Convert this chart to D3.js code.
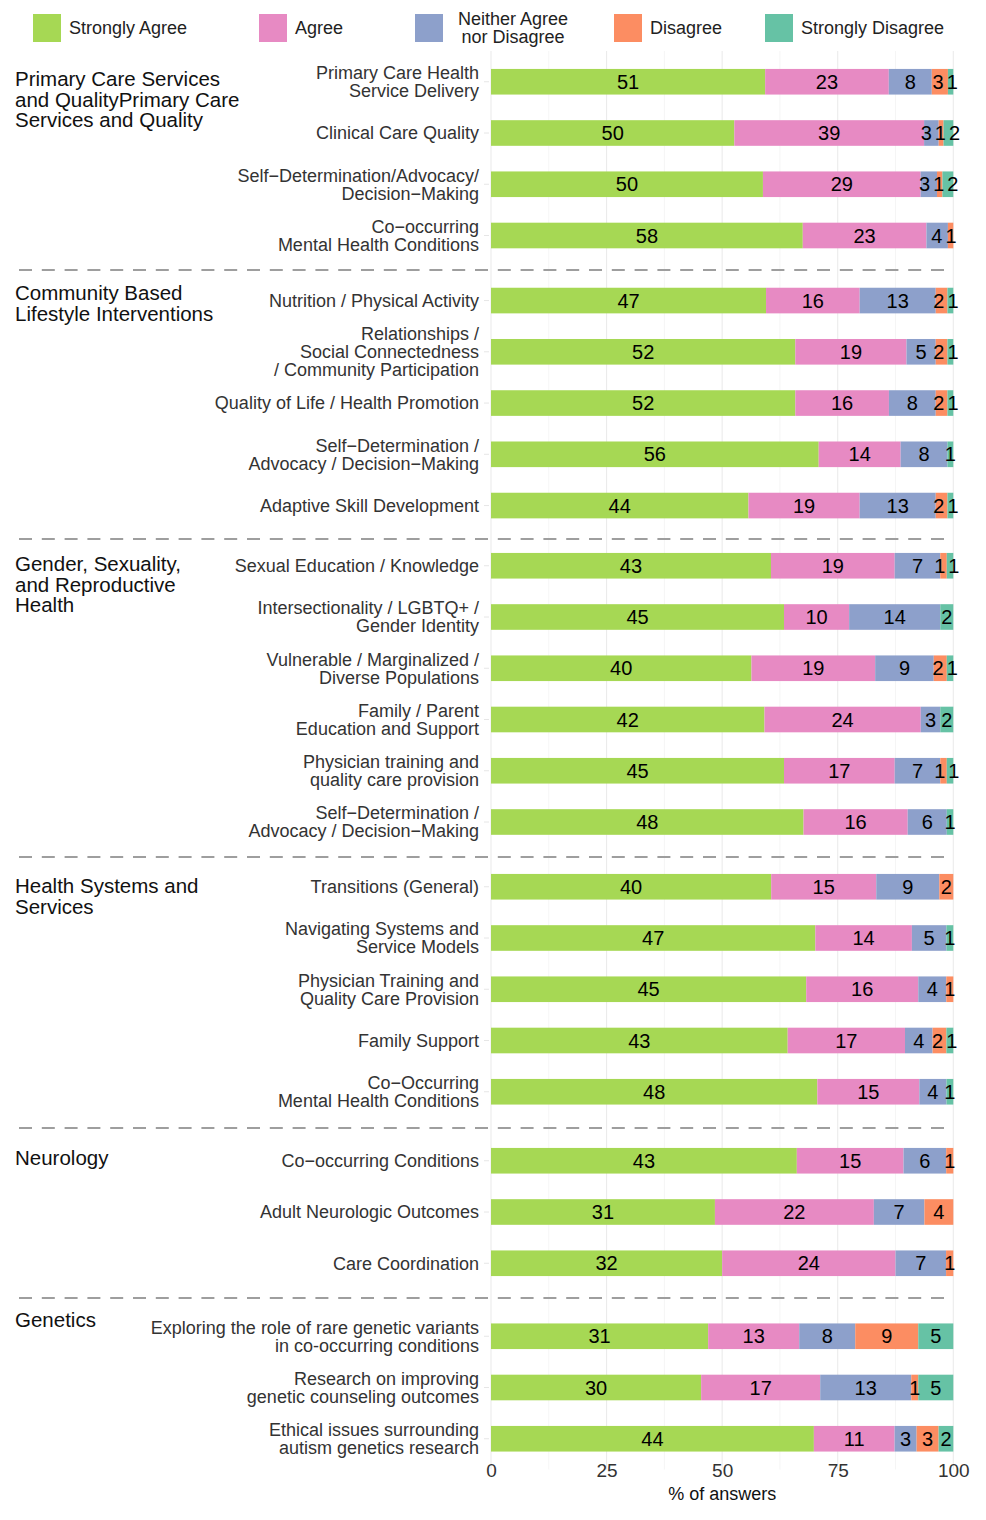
<!DOCTYPE html>
<html>
<head>
<meta charset="utf-8">
<script src="https://cdn.jsdelivr.net/npm/d3@7"></script>
<style>
  body { margin: 0; background: #fff; }
  text { font-family: "Liberation Sans", Arial, Helvetica, sans-serif; }
</style>
</head>
<body>
<svg id="chart" width="986" height="1520"></svg>
<script>
// answer levels (legend order = stacking order)
const levels = ["Strongly Agree", "Agree", "Neither Agree\nnor Disagree", "Disagree", "Strongly Disagree"];
const colors = ["#a6d854", "#e78ac3", "#8da0cb", "#fc8d62", "#66c2a5"];

const groupNames = [
  "Primary Care Services\nand QualityPrimary Care\nServices and Quality",
  "Community Based\nLifestyle Interventions",
  "Gender, Sexuality,\nand Reproductive\nHealth",
  "Health Systems and\nServices",
  "Neurology",
  "Genetics"
];

const itemLabels = [
  ["Primary Care Health\nService Delivery", "Clinical Care Quality",
   "Self\u2212Determination/Advocacy/\nDecision\u2212Making", "Co\u2212occurring\nMental Health Conditions"],
  ["Nutrition / Physical Activity", "Relationships /\nSocial Connectedness\n/ Community Participation",
   "Quality of Life / Health Promotion", "Self\u2212Determination /\nAdvocacy / Decision\u2212Making",
   "Adaptive Skill Development"],
  ["Sexual Education / Knowledge", "Intersectionality / LGBTQ+ /\nGender Identity",
   "Vulnerable / Marginalized /\nDiverse Populations", "Family / Parent\nEducation and Support",
   "Physician training and\nquality care provision", "Self\u2212Determination /\nAdvocacy / Decision\u2212Making"],
  ["Transitions (General)", "Navigating Systems and\nService Models",
   "Physician Training and\nQuality Care Provision", "Family Support",
   "Co\u2212Occurring\nMental Health Conditions"],
  ["Co\u2212occurring Conditions", "Adult Neurologic Outcomes", "Care Coordination"],
  ["Exploring the role of rare genetic variants\nin co-occurring conditions",
   "Research on improving\ngenetic counseling outcomes",
   "Ethical issues surrounding\nautism genetics research"]
];

// counts per item, in the same order as itemLabels flattened
const stronglyAgree    = [51, 50, 50, 58,  47, 52, 52, 56, 44,  43, 45, 40, 42, 45, 48,  40, 47, 45, 43, 48,  43, 31, 32,  31, 30, 44];
const agree            = [23, 39, 29, 23,  16, 19, 16, 14, 19,  19, 10, 19, 24, 17, 16,  15, 14, 16, 17, 15,  15, 22, 24,  13, 17, 11];
const neither          = [ 8,  3,  3,  4,  13,  5,  8,  8, 13,   7, 14,  9,  3,  7,  6,   9,  5,  4,  4,  4,   6,  7,  7,   8, 13,  3];
const disagree         = [ 3,  1,  1,  1,   2,  2,  2,  0,  2,   1,  0,  2,  0,  1,  0,   2,  0,  1,  2,  0,   1,  4,  1,   9,  1,  3];
const stronglyDisagree = [ 1,  2,  2,  0,   1,  1,  1,  1,  1,   1,  2,  1,  2,  1,  1,   0,  1,  0,  1,  1,   0,  0,  0,   5,  5,  2];

const xTicks = [0, 25, 50, 75, 100];

// ---- layout
const step = 51.25;                                   // distance between bar centres
const panelTop = [51, 269.8, 535, 856, 1130, 1305.5];
const sepY = [270, 539, 857, 1128, 1298];
const stripBase = [86, 300, 571, 893, 1165, 1327];
const legendX = [33, 259, 415, 614, 765];
const font = "Liberation Sans, Arial, sans-serif";

const svg = d3.select("#chart");
svg.append("rect").attr("width", 986).attr("height", 1520).attr("fill", "#fff");

const x = d3.scaleLinear().domain([0, 100]).range([491, 953.3]);

// build rows
const series = [stronglyAgree, agree, neither, disagree, stronglyDisagree];
let rows = [], k = 0;
itemLabels.forEach((labs, g) => labs.forEach((lab, i) => {
  const r = { group: g, idx: i, label: lab };
  levels.forEach((lv, j) => r[lv] = series[j][k]);
  rows.push(r); k++;
}));

const yScales = itemLabels.map((labs, g) => d3.scalePoint()
  .domain(labs.map((d, i) => i))
  .range([panelTop[g], panelTop[g] + (labs.length + 0.2) * step])
  .padding(0.6));
const yc = r => yScales[r.group](r.idx);
const barH = step * 0.5;

// gridlines
const gridTop = panelTop[0], gridBot = panelTop[5] + 3.2 * step;
svg.append("g").selectAll("line")
  .data(d3.range(0, 100.1, 12.5))
  .join("line")
  .attr("x1", d => x(d)).attr("x2", d => x(d))
  .attr("y1", gridTop).attr("y2", gridBot)
  .attr("stroke", d => d % 25 === 0 ? "#ebebeb" : "#f3f3f3")
  .attr("stroke-width", d => d % 25 === 0 ? 1.1 : 0.8);

// separators
svg.append("g").selectAll("line")
  .data(sepY)
  .join("line")
  .attr("x1", 19).attr("x2", 953)
  .attr("y1", d => d).attr("y2", d => d)
  .attr("stroke", "#9e9e9e").attr("stroke-width", 2)
  .attr("stroke-dasharray", "13,9.8");

// stacked bars (normalised to 100 %)
const stacked = d3.stack().keys(levels).offset(d3.stackOffsetExpand)(rows);
stacked.forEach((layer, j) => {
  svg.append("g").selectAll("rect")
    .data(layer.filter(d => d[1] > d[0]))
    .join("rect")
    .attr("x", d => x(d[0] * 100))
    .attr("width", d => x(d[1] * 100) - x(d[0] * 100))
    .attr("y", d => yc(d.data) - barH / 2)
    .attr("height", barH)
    .attr("fill", colors[j]);
});

// value labels, nudged apart where they collide
const lblG = svg.append("g");
rows.forEach((r, ri) => {
  const items = [];
  stacked.forEach(layer => {
    const d = layer[ri];
    const v = d.data[layer.key];
    if (v > 0) items.push({ v, cx: x((d[0] + d[1]) / 2 * 100) });
  });
  const nodes = items.map(it => lblG.append("text")
    .attr("y", yc(r) + 7)
    .attr("text-anchor", "middle")
    .attr("font-size", 20)
    .attr("fill", "#000")
    .text(it.v));
  const w = nodes.map(n => n.node().getComputedTextLength());
  const pos = items.map(it => it.cx);
  for (let it = 0; it < 100; it++) {
    for (let i = 1; i < pos.length; i++) {
      const minD = (w[i - 1] + w[i]) / 2 + 3;
      const diff = pos[i] - pos[i - 1];
      if (diff < minD) {
        const s = (minD - diff) / 2;
        pos[i - 1] -= s; pos[i] += s;
      }
    }
  }
  nodes.forEach((n, i) => n.attr("x", pos[i]));
});

// y axis labels + small ticks
const yAx = svg.append("g");
rows.forEach(r => {
  const lines = r.label.split("\n");
  const lh = 18;
  const t = yAx.append("text")
    .attr("text-anchor", "end")
    .attr("font-size", 18)
    .attr("fill", "#333");
  lines.forEach((ln, i) => t.append("tspan")
    .attr("x", 479)
    .attr("y", yc(r) - (lines.length - 1) * lh / 2 + i * lh + 6.3)
    .text(ln));
  yAx.append("line")
    .attr("x1", 484).attr("x2", 489)
    .attr("y1", yc(r)).attr("y2", yc(r))
    .attr("stroke", "#e6e6e6").attr("stroke-width", 1);
});

// strip labels
groupNames.forEach((name, g) => {
  const t = svg.append("text").attr("font-size", 20.5).attr("fill", "#111");
  name.split("\n").forEach((ln, i) => t.append("tspan")
    .attr("x", 15).attr("y", stripBase[g] + i * 20.5).text(ln));
});

// x axis
const xAxis = svg.append("g")
  .attr("transform", "translate(0,1460)")
  .call(d3.axisBottom(x).tickValues(xTicks).tickSize(0).tickPadding(3));
xAxis.select(".domain").remove();
xAxis.selectAll("text").attr("font-size", 19).attr("fill", "#333").attr("font-family", font);

svg.append("text")
  .attr("x", (x(0) + x(100)) / 2).attr("y", 1500)
  .attr("text-anchor", "middle")
  .attr("font-size", 18).attr("fill", "#111")
  .text("% of answers");

// legend
const leg = svg.append("g");
levels.forEach((lv, j) => {
  leg.append("rect")
    .attr("x", legendX[j]).attr("y", 14)
    .attr("width", 28).attr("height", 28)
    .attr("fill", colors[j]);
  const lines = lv.split("\n");
  const t = leg.append("text")
    .attr("font-size", 18).attr("fill", "#222")
    .attr("text-anchor", lines.length > 1 ? "middle" : "start");
  lines.forEach((ln, i) => t.append("tspan")
    .attr("x", legendX[j] + 36)
    .attr("y", 28 - (lines.length - 1) * 9 + i * 18 + 6.3)
    .text(ln));
  if (lines.length > 1) {
    const w = t.node().getBBox().width;
    t.selectAll("tspan").attr("x", legendX[j] + 43 + w / 2);
  }
});
</script>
</body>
</html>
